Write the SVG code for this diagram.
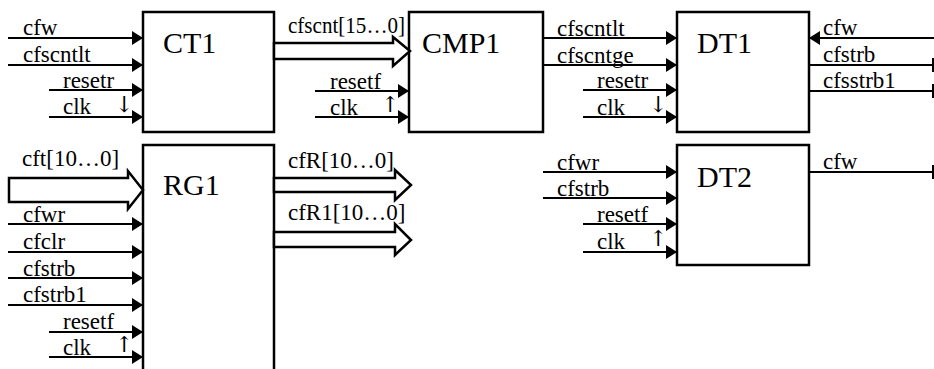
<svg xmlns="http://www.w3.org/2000/svg" width="934" height="369" viewBox="0 0 934 369">
<style>
  .box{fill:#fff;stroke:#000;stroke-width:2.5}
  .w{stroke:#000;stroke-width:2.2;fill:none}
  .bus{fill:#fff;stroke:#000;stroke-width:2.5;stroke-linejoin:miter}
  .bar{stroke:#000;stroke-width:2}
  text{font-family:"Liberation Serif","Times New Roman",serif;fill:#000}
  .l{font-size:23px}
  .n{font-size:30px}
  .a{font-size:22px;font-family:"DejaVu Serif",serif}
</style>
<defs>
  <marker id="ah" markerUnits="userSpaceOnUse" markerWidth="12" markerHeight="16" refX="11" refY="7" orient="auto">
    <path d="M0,0 L11,7 L0,14 Z" fill="#000"/>
  </marker>
</defs>
<g id="CT1"><rect class="box" x="143" y="12" width="131" height="120"/><text class="n" x="163" y="53">CT1</text></g>
<g id="CMP1"><rect class="box" x="409" y="12" width="134" height="120"/><text class="n" x="422" y="53">CMP1</text></g>
<g id="DT1"><rect class="box" x="677" y="12" width="132" height="120"/><text class="n" x="697" y="53">DT1</text></g>
<g id="RG1"><rect class="box" x="143" y="145" width="131" height="230"/><text class="n" x="163" y="195">RG1</text></g>
<g id="DT2"><rect class="box" x="677" y="145" width="132" height="120"/><text class="n" x="697" y="187">DT2</text></g>
<g id="connectors">
  <line class="w" x1="8" y1="38" x2="143" y2="38" marker-end="url(#ah)"/>
  <line class="w" x1="8" y1="65" x2="143" y2="65" marker-end="url(#ah)"/>
  <line class="w" x1="49" y1="90" x2="143" y2="90" marker-end="url(#ah)"/>
  <line class="w" x1="49" y1="117" x2="143" y2="117" marker-end="url(#ah)"/>
  <polygon class="bus" points="274,43 393,43 393,37 410,51 393,66 393,59 274,59"/>
  <line class="w" x1="315" y1="91" x2="409" y2="91" marker-end="url(#ah)"/>
  <line class="w" x1="315" y1="117" x2="409" y2="117" marker-end="url(#ah)"/>
  <line class="w" x1="543" y1="38" x2="677" y2="38" marker-end="url(#ah)"/>
  <line class="w" x1="543" y1="65" x2="677" y2="65" marker-end="url(#ah)"/>
  <line class="w" x1="583" y1="90" x2="677" y2="90" marker-end="url(#ah)"/>
  <line class="w" x1="583" y1="117" x2="677" y2="117" marker-end="url(#ah)"/>
  <line class="w" x1="934" y1="38" x2="809" y2="38" marker-end="url(#ah)"/>
  <line class="w" x1="809" y1="65" x2="933" y2="65"/>
  <line class="bar" x1="933" y1="58" x2="933" y2="72"/>
  <line class="w" x1="809" y1="91" x2="933" y2="91"/>
  <line class="bar" x1="933" y1="84" x2="933" y2="98"/>
  <polygon class="bus" points="9,178 128,178 128,171 143,190 128,209 128,202 9,202"/>
  <line class="w" x1="8" y1="224" x2="143" y2="224" marker-end="url(#ah)"/>
  <line class="w" x1="8" y1="252" x2="143" y2="252" marker-end="url(#ah)"/>
  <line class="w" x1="8" y1="278" x2="143" y2="278" marker-end="url(#ah)"/>
  <line class="w" x1="8" y1="305" x2="143" y2="305" marker-end="url(#ah)"/>
  <line class="w" x1="49" y1="332" x2="143" y2="332" marker-end="url(#ah)"/>
  <line class="w" x1="49" y1="357" x2="143" y2="357" marker-end="url(#ah)"/>
  <polygon class="bus" points="274,178 395,178 395,170 411,185 395,200 395,192 274,192"/>
  <polygon class="bus" points="274,232 395,232 395,224 411,240 395,255 395,247 274,247"/>
  <line class="w" x1="543" y1="172" x2="677" y2="172" marker-end="url(#ah)"/>
  <line class="w" x1="543" y1="198" x2="677" y2="198" marker-end="url(#ah)"/>
  <line class="w" x1="583" y1="224" x2="677" y2="224" marker-end="url(#ah)"/>
  <line class="w" x1="583" y1="252" x2="677" y2="252" marker-end="url(#ah)"/>
  <line class="w" x1="809" y1="172" x2="933" y2="172"/>
  <line class="bar" x1="933" y1="165" x2="933" y2="179"/>
</g>
<g id="labels">
  <text class="l" x="23" y="35">cfw</text>
  <text class="l" x="23" y="62">cfscntlt</text>
  <text class="l" x="63" y="88">resetr</text>
  <text class="l" x="63" y="114">clk</text>
  <text class="a" x="115" y="112">↓</text>
  <text class="l" x="288" y="33" textLength="117" lengthAdjust="spacingAndGlyphs">cfscnt[15…0]</text>
  <text class="l" x="330" y="89">resetf</text>
  <text class="l" x="330" y="115">clk</text>
  <text class="a" x="381" y="112">↑</text>
  <text class="l" x="557" y="36">cfscntlt</text>
  <text class="l" x="557" y="63">cfscntge</text>
  <text class="l" x="597" y="88">resetr</text>
  <text class="l" x="597" y="115">clk</text>
  <text class="a" x="649" y="112">↓</text>
  <text class="l" x="823" y="35">cfw</text>
  <text class="l" x="823" y="62">cfstrb</text>
  <text class="l" x="823" y="88">cfsstrb1</text>
  <text class="l" x="22" y="166">cft[10…0]</text>
  <text class="l" x="23" y="222">cfwr</text>
  <text class="l" x="23" y="249">cfclr</text>
  <text class="l" x="23" y="276">cfstrb</text>
  <text class="l" x="23" y="302">cfstrb1</text>
  <text class="l" x="63" y="329">resetf</text>
  <text class="l" x="63" y="355">clk</text>
  <text class="a" x="115" y="352">↑</text>
  <text class="l" x="288" y="168">cfR[10…0]</text>
  <text class="l" x="288" y="220">cfR1[10…0]</text>
  <text class="l" x="557" y="170">cfwr</text>
  <text class="l" x="557" y="196">cfstrb</text>
  <text class="l" x="597" y="222">resetf</text>
  <text class="l" x="597" y="249">clk</text>
  <text class="a" x="649" y="246">↑</text>
  <text class="l" x="823" y="169">cfw</text>
</g>
</svg>
